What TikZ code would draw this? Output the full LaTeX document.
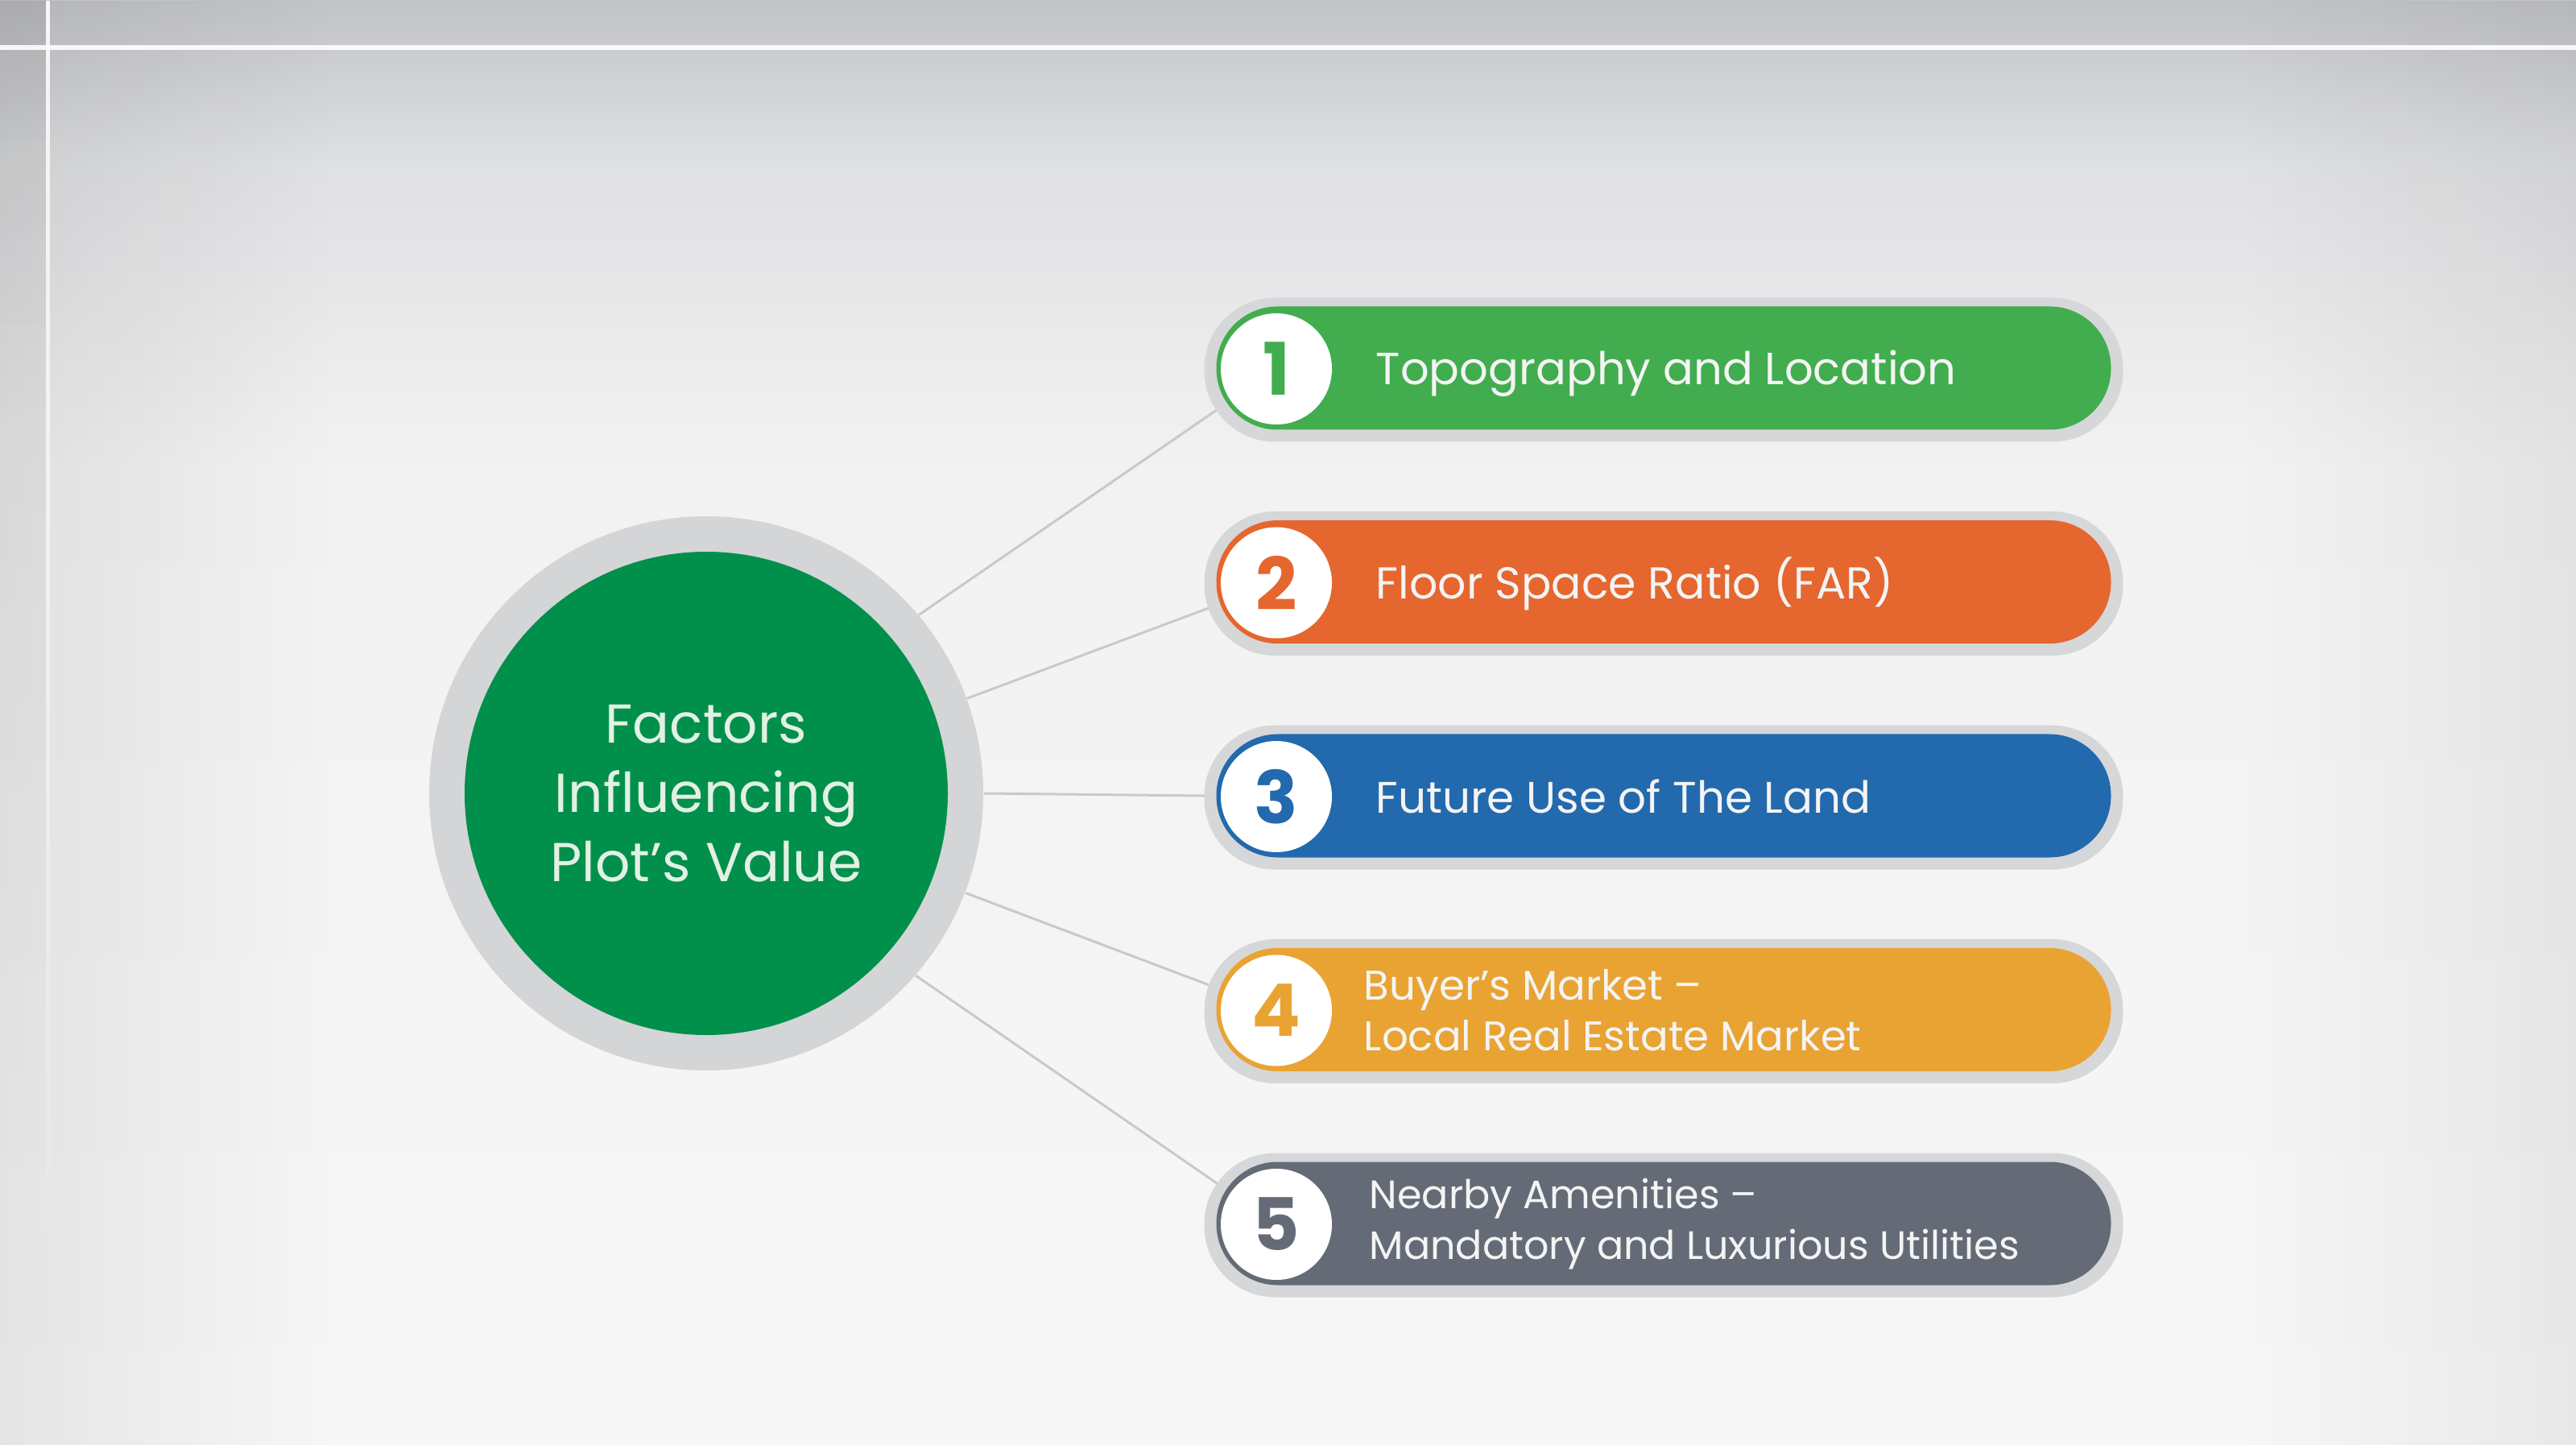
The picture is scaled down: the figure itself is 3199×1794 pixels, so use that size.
\documentclass[tikz,border=0pt]{standalone}
\usepackage{fontspec}
\setmainfont{Poppins}
\usetikzlibrary{fadings}
\definecolor{cGreen}{HTML}{41AD4F}
\definecolor{cOrange}{HTML}{E5662E}
\definecolor{cBlue}{HTML}{2369AD}
\definecolor{cYellow}{HTML}{E9A333}
\definecolor{cSlate}{HTML}{656B76}
\definecolor{cHub}{HTML}{00904C}
\definecolor{cRing}{HTML}{D4D5D7}
\definecolor{cHalo}{HTML}{D6D7D9}
\definecolor{cLine}{HTML}{C8C9CB}
\definecolor{cHubText}{HTML}{E2F1E4}
\definecolor{cBarText}{HTML}{F4F4F4}
\definecolor{bgA}{HTML}{C2C3C7}
\definecolor{bgB}{HTML}{DFE0E2}
\definecolor{bgC}{HTML}{F2F2F2}
\definecolor{bgD}{HTML}{F7F7F7}
\tikzfading[name=fadetoright, left color=transparent!0, right color=transparent!100]
\tikzfading[name=fadetoleft, left color=transparent!100, right color=transparent!0]
\tikzfading[name=fadetobottom, top color=transparent!0, bottom color=transparent!100]
\pgfdeclarelayer{back}
\pgfdeclarelayer{links}
\pgfsetlayers{back,links,main}
\tikzset{
  halo/.style={fill=cHalo, draw=none, minimum width=285.25pt, minimum height=44.75pt,
    rounded corners=22pt, inner sep=0pt},
  bar/.style={draw=none, minimum width=277.75pt, minimum height=38.25pt,
    rounded corners=19pt, inner sep=0pt},
  disc/.style={circle, fill=white, minimum size=34.5pt, inner sep=0pt,
    font=\fontsize{22.5}{24}\selectfont\bfseries},
  bartext/.style={anchor=west, inner sep=0pt, text=cBarText,
    font=\fontsize{14}{17}\selectfont},
  bartexttwo/.style={anchor=west, inner sep=0pt, text=cBarText, align=left},
  hubring/.style={circle, fill=cRing, minimum size=172pt, inner sep=0pt},
  hub/.style={circle, fill=cHub, minimum size=150pt, inner sep=0pt, align=center,
    text=cHubText, font=\fontsize{17}{21.5}\selectfont},
  link/.style={draw=cLine, line width=0.75pt}
}
\begin{document}
\begin{tikzpicture}[x=0.25pt, y=-0.25pt]
\useasboundingbox (0,0) rectangle (3199,1794);
% background
\begin{pgfonlayer}{back}
  \shade[top color=bgA, bottom color=bgB] (0,0) rectangle (3199,202);
  \shade[top color=bgB, bottom color=bgC] (0,200) rectangle (3199,582);
  \shade[top color=bgC, bottom color=bgD] (0,580) rectangle (3199,1794);
  \fill[black, opacity=0.07, path fading=fadetoright] (0,0) rectangle (420,1794);
  \fill[black, opacity=0.06, path fading=fadetoleft] (2780,0) rectangle (3199,1794);
  \fill[black, opacity=0.05, path fading=fadetobottom] (0,0) rectangle (57,1500);
  \fill[white, opacity=0.9] (0,56) rectangle (3199,62);
  \fill[white, opacity=0.9, path fading=fadetobottom] (57,0) rectangle (62,1600);
\end{pgfonlayer}

% hub
\node[hubring] (ring) at (877,985) {};
\node[hub] (hub) at (877,985) {Factors\\Influencing\\Plot's Value};

% bars
\node[halo] (h1) at (2066,459) {};
\node[bar, fill=cGreen] (b1) at (2066,457) {};
\node[disc, text=cGreen] (n1) at (1585,458) {1};
\node[bartext] (t1) at (1708,464) {Topography and Location};

\node[halo] (h2) at (2066,724.5) {};
\node[bar, fill=cOrange] (b2) at (2066,722.5) {};
\node[disc, text=cOrange] (n2) at (1585,723.5) {2};
\node[bartext, font=\fontsize{13.85}{17}\selectfont] (t2) at (1708,724.5) {Floor Space Ratio (FAR)};

\node[halo] (h3) at (2066,990) {};
\node[bar, fill=cBlue] (b3) at (2066,988) {};
\node[disc, text=cBlue] (n3) at (1585,989) {3};
\node[bartext, font=\fontsize{13.7}{17}\selectfont] (t3) at (1708,989) {Future Use of The Land};

\node[halo] (h4) at (2066,1255.5) {};
\node[bar, fill=cYellow] (b4) at (2066,1253.5) {};
\node[disc, text=cYellow] (n4) at (1585,1254.5) {4};
\node[bartexttwo, font=\fontsize{12.85}{15.75}\selectfont] (t4) at (1693,1254) {Buyer's Market –\\Local Real Estate Market};

\node[halo] (h5) at (2066,1521) {};
\node[bar, fill=cSlate] (b5) at (2066,1519) {};
\node[disc, text=cSlate] (n5) at (1585,1520) {5};
\node[bartexttwo, font=\fontsize{12.3}{15.75}\selectfont] (t5) at (1700,1519.5) {Nearby Amenities –\\Mandatory and Luxurious Utilities};

% connectors
\begin{pgfonlayer}{links}
  \draw[link] (ring.40) -- (n1.center);
  \draw[link] (ring.20) -- (n2.center);
  \draw[link] (ring.0) -- (n3.center);
  \draw[link] (ring.-21) -- (n4.center);
  \draw[link] (ring.-41) -- (n5.center);
\end{pgfonlayer}
\end{tikzpicture}
\end{document}
